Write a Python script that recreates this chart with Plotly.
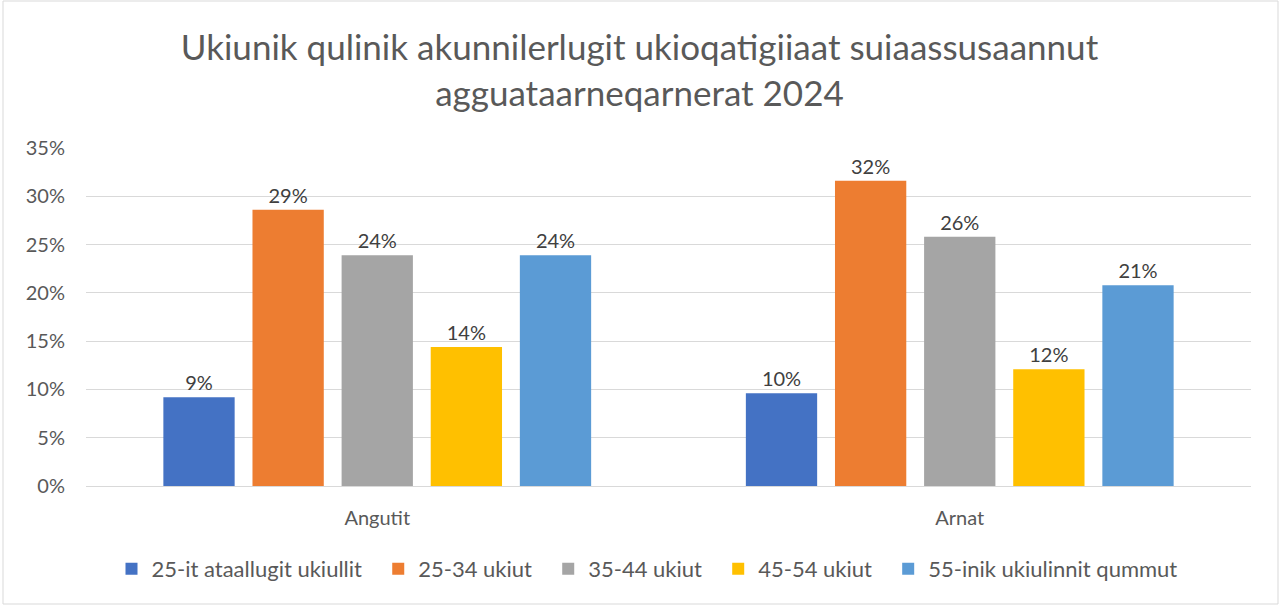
import plotly.graph_objects as go

categories = ["Angutit", "Arnat"]
series_names = ["25-it ataallugit ukiullit", "25-34 ukiut", "35-44 ukiut", "45-54 ukiut", "55-inik ukiulinnit qummut"]
angutit = [0.092, 0.286, 0.239, 0.144, 0.239]
arnat = [0.096, 0.316, 0.258, 0.121, 0.208]
colors = ["#4472C4", "#ED7D31", "#A5A5A5", "#FFC000", "#5B9BD5"]
title_text = "Ukiunik qulinik akunnilerlugit ukioqatigiiaat suiaassusaannut<br>agguataarneqarnerat 2024"

FONT = "Lato, 'Open Sans', sans-serif"
PAD = "\u00a0" * 2

fig = go.Figure()
for i, name in enumerate(series_names):
    vals = [angutit[i], arnat[i]]
    fig.add_trace(go.Bar(
        x=categories, y=vals,
        name=name + (PAD if i < len(series_names) - 1 else ""),
        marker=dict(color=colors[i], line=dict(width=0)),
        text=[f"{round(v*100):.0f}%" for v in vals],
        textposition="outside",
        textfont=dict(size=20, color="#404040", family=FONT),
        cliponaxis=False,
    ))

W, H = 1279, 605
ml, mr, mt, mb = 86, 28, 148, 119
pw, ph = W - ml - mr, H - mt - mb

fig.update_layout(
    width=W, height=H,
    margin=dict(l=ml, r=mr, t=mt, b=mb),
    paper_bgcolor="white", plot_bgcolor="white",
    barmode="group", bargap=0.235, bargroupgap=0.2,
    title=dict(text=title_text, x=0.5, xanchor="center", y=1 - 60/H, yanchor="middle",
               font=dict(size=35, color="#595959", family=FONT)),
    font=dict(family=FONT, color="#595959"),
    showlegend=True,
    legend=dict(orientation="h", x=(647 - ml) / pw, xanchor="center", y=-(569 - 486) / ph, yanchor="middle",
                font=dict(size=22, color="#595959", family=FONT), traceorder="normal",
                itemwidth=30),
    yaxis=dict(range=[0, 0.35], dtick=0.05, tickformat=".0%", gridcolor="#D9D9D9", gridwidth=1,
               zeroline=True, zerolinecolor="#D9D9D9", zerolinewidth=1, showline=False,
               tickfont=dict(size=20, color="#595959", family=FONT), ticks="", ticklabelstandoff=20),
    xaxis=dict(showline=False, ticks="", tickfont=dict(size=20, color="#595959", family=FONT),
               ticklabelstandoff=18),
    shapes=[dict(type="rect", xref="paper", yref="paper",
                 x0=(3 - ml) / pw, x1=(W - 1 - ml) / pw,
                 y0=-(H - 1 - mt - ph) / ph, y1=1 + (mt - 1) / ph,
                 line=dict(color="#D9D9D9", width=1), layer="below")],
)

fig.write_html("out.html", config={"displayModeBar": False},
               post_script="document.body.style.margin='0';document.body.style.padding='0';document.body.style.overflow='hidden';")
